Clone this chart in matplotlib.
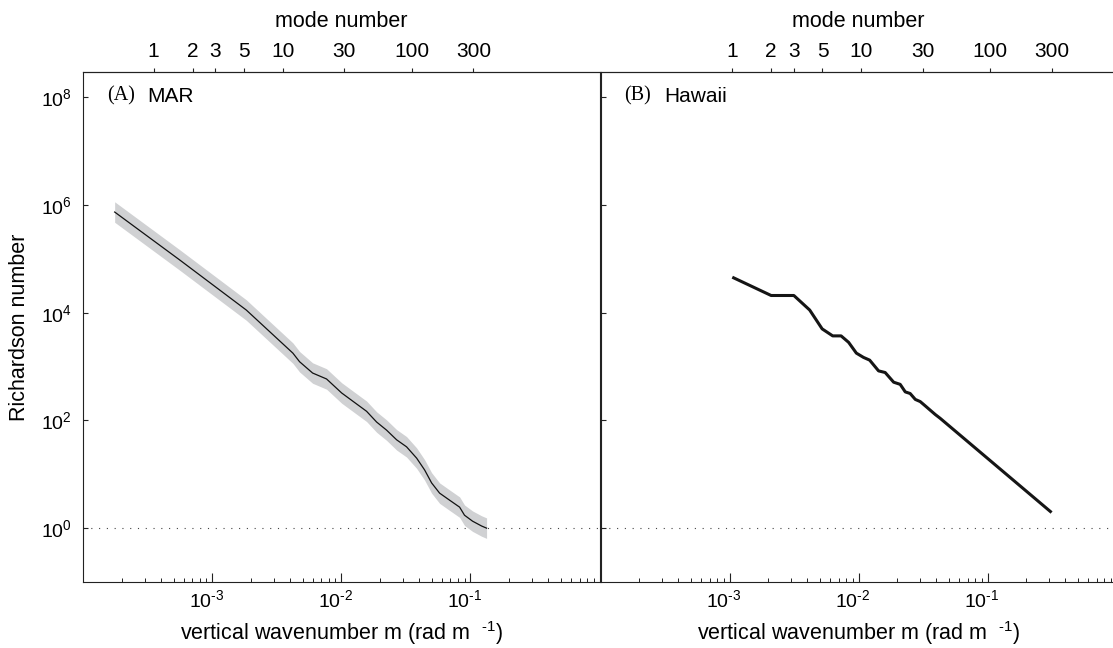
import numpy as np
import matplotlib
matplotlib.use("Agg")
import matplotlib.pyplot as plt
from matplotlib.ticker import FixedLocator, FuncFormatter, LogLocator, NullLocator, NullFormatter
import matplotlib.transforms as mtransforms

plt.rcParams['font.family'] = ['Liberation Sans', 'DejaVu Sans']
plt.rcParams['mathtext.fontset'] = 'custom'
plt.rcParams['mathtext.rm'] = 'Liberation Sans'
plt.rcParams['mathtext.it'] = 'Liberation Sans:italic'
plt.rcParams['mathtext.bf'] = 'Liberation Sans:bold'

# ---------------- data ----------------
# (A) MAR : log10 vertical wavenumber, log10 Richardson number
mar_log_m = [-3.757, -3.253, -2.737, -2.376, -2.324, -2.223, -2.115, -1.998,
             -1.913, -1.805, -1.727, -1.650, -1.572, -1.495, -1.417, -1.355,
             -1.301, -1.239, -1.162, -1.084, -1.046, -0.984, -0.914, -0.875]
mar_log_ri = [5.87, 4.98, 4.05, 3.25, 3.09, 2.88, 2.77, 2.51,
              2.36, 2.17, 1.97, 1.82, 1.64, 1.51, 1.30, 1.08,
              0.84, 0.65, 0.52, 0.39, 0.24, 0.13, 0.04, 0.00]
mar_band_dex = 0.19          # half-width of the grey uncertainty band (decades)

# (B) Hawaii : mode number, log10 Richardson number
hawaii_mode = [1.0, 2.0, 3.0, 3.98, 4.97, 6.0, 6.97, 7.97, 9.15, 10.4, 11.6,
               13.6, 15.3, 17.8, 20.0, 21.9, 23.9, 26.2, 28.6, 31.3, 34.2,
               37.4, 40.8, 298.0]
hawaii_log_ri = [4.66, 4.32, 4.32, 4.05, 3.70, 3.57, 3.57, 3.45, 3.25, 3.17, 3.12,
                 2.92, 2.89, 2.71, 2.67, 2.53, 2.50, 2.39, 2.35, 2.27, 2.19,
                 2.11, 2.04, 0.29]

# wavenumber of mode 1 in each panel (top axis)
mode1_m = [3.51e-4, 1.05e-3]
mode_ticks = [1, 2, 3, 5, 10, 30, 100, 300]
x_major = [1e-3, 1e-2, 1e-1]
y_major = [1e0, 1e2, 1e4, 1e6, 1e8]
panel_letters = ['(A)', '(B)']
panel_names = ['MAR', 'Hawaii']

# ---------------- figure ----------------
W, H = 1113, 648
fig = plt.figure(figsize=(W / 100, H / 100), dpi=100)


def px_axes(x0, x1, ytop, ybot):
    return fig.add_axes([x0 / W, 1 - ybot / H, (x1 - x0) / W, (ybot - ytop) / H])


def pow_label(v, pos=None):
    e = int(round(np.log10(v)))
    if e < 0:
        return r'$\mathdefault{10^{\text{-}%d}}$' % (-e)
    return r'$\mathdefault{10^{%d}}$' % e


axA = px_axes(83.3, 599.5, 72, 582)
axB = px_axes(600.5, 1116.7, 72, 582)
axes = [axA, axB]

spine_col = '#222222'
for i, ax in enumerate(axes):
    ax.set_xscale('log')
    ax.set_yscale('log')
    ax.set_xlim(1e-4, 1e0)
    ax.set_ylim(1e-1, 10 ** 8.47)
    for s in ax.spines.values():
        s.set_linewidth(0.8)
        s.set_color(spine_col)
    ax.axhline(1.0, color='#444444', linestyle=(0, (1, 6)), linewidth=0.8, zorder=1)

    ax.xaxis.set_major_locator(FixedLocator(x_major))
    ax.xaxis.set_minor_locator(LogLocator(base=10, subs=np.arange(2, 10), numticks=20))
    ax.xaxis.set_minor_formatter(NullFormatter())
    ax.xaxis.set_major_formatter(FuncFormatter(pow_label))
    ax.yaxis.set_major_locator(FixedLocator(y_major))
    ax.yaxis.set_minor_locator(NullLocator())
    ax.yaxis.set_major_formatter(FuncFormatter(pow_label))
    ax.tick_params(axis='x', which='major', direction='in', length=6.5, width=0.8,
                   color=spine_col, labelsize=14, pad=5, top=False)
    ax.tick_params(axis='x', which='minor', direction='in', length=3, width=0.7,
                   color=spine_col, top=False)
    ax.tick_params(axis='y', which='major', direction='in', length=3.5, width=0.8,
                   color=spine_col, labelsize=14, pad=8, right=False,
                   labelleft=(i == 0))

    m0 = mode1_m[i]
    sec = ax.secondary_xaxis('top', functions=(lambda m, m0=m0: m / m0,
                                               lambda n, m0=m0: n * m0))
    sec.set_xticks(mode_ticks, labels=[str(t) for t in mode_ticks])
    sec.xaxis.set_minor_locator(NullLocator())
    sec.tick_params(axis='x', direction='out', length=3, width=0.8, color=spine_col,
                    labelsize=15, pad=5)
    for s in sec.spines.values():
        s.set_linewidth(0.8)
        s.set_color(spine_col)
    ax.text(0.5, 1 + (72 - 27) / 510, 'mode number', transform=ax.transAxes,
            ha='center', va='baseline', fontsize=15.5)

    ax.set_xlabel('vertical wavenumber m (rad m  $^{\\text{-}1}$)', fontsize=15.5)
    ax.xaxis.set_label_coords(0.5, -(640 - 582) / 510)
    ax.xaxis.label.set_va('baseline')

    # panel labels
    ax.text(24 / 516, (582 - 96) / 510, panel_letters[i], transform=ax.transAxes,
            ha='left', va='center', fontsize=14.5, family=['Liberation Serif', 'DejaVu Serif'])
    ax.text(64 / 516, (582 - 96) / 510, panel_names[i], transform=ax.transAxes,
            ha='left', va='center', fontsize=15)

    # shift bottom tick labels slightly to the left, like the original
    off = mtransforms.ScaledTranslation(-6 / 100, 0, fig.dpi_scale_trans)
    for lab in ax.get_xticklabels():
        lab.set_transform(lab.get_transform() + off)

axA.set_ylabel('Richardson number', fontsize=15.5)
axA.yaxis.set_label_coords(-(83.3 - 20) / 516, 0.5)
axA.yaxis.label.set_va('center')

# (A) MAR curve with band
mar_m = 10 ** np.array(mar_log_m)
mar_ri = 10 ** np.array(mar_log_ri)
band = 10 ** mar_band_dex
axA.fill_between(mar_m, mar_ri / band, mar_ri * band, color='#d0d1d3', linewidth=0, zorder=2)
axA.plot(mar_m, mar_ri, color='#111111', linewidth=0.9, zorder=3)

# (B) Hawaii curve
hw_m = np.array(hawaii_mode) * mode1_m[1]
hw_ri = 10 ** np.array(hawaii_log_ri)
axB.plot(hw_m, hw_ri, color='#151515', linewidth=2.2, zorder=3,
         solid_joinstyle='round', solid_capstyle='butt')

fig.savefig('out.png', dpi=100)
